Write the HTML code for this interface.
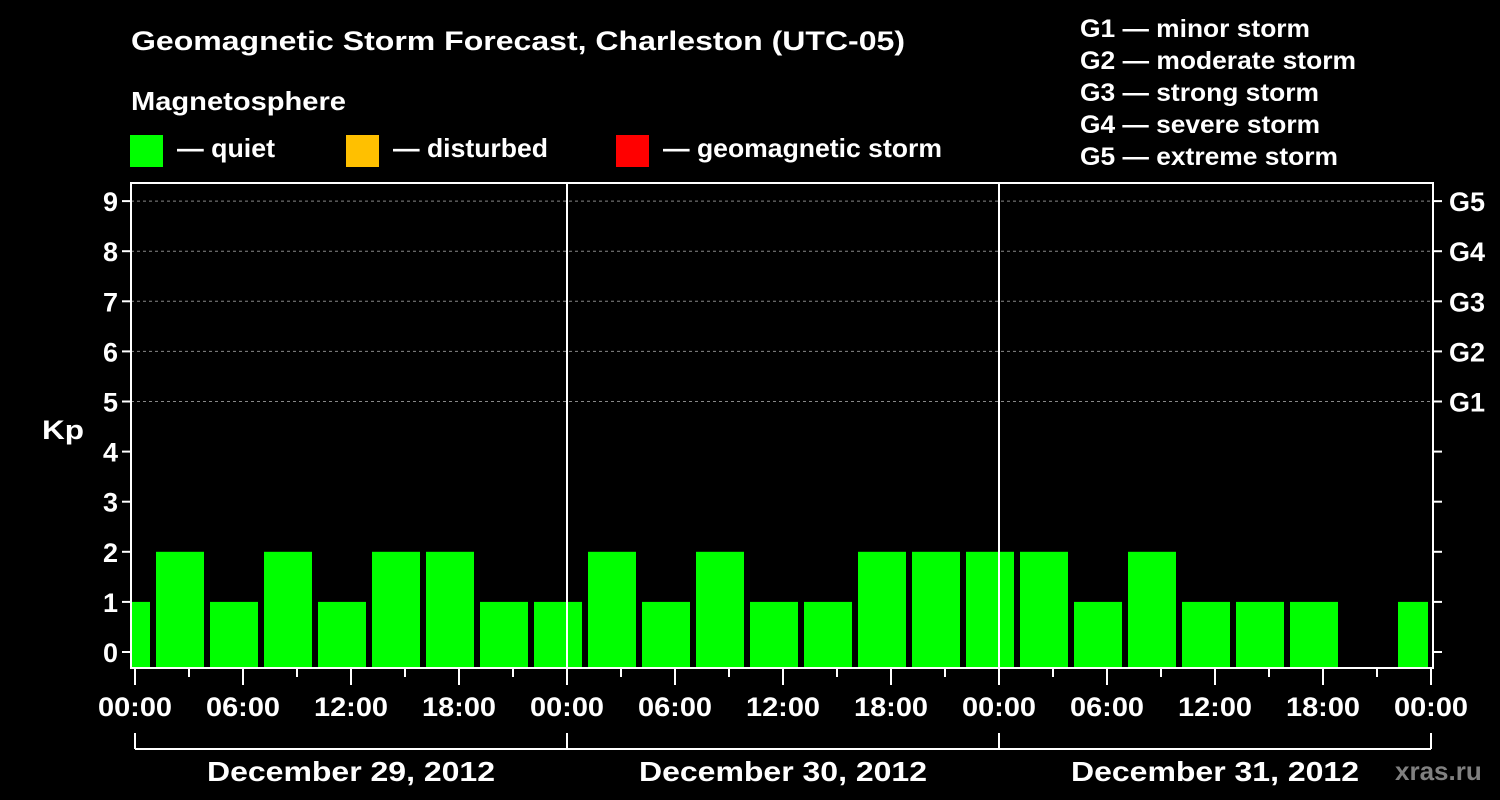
<!DOCTYPE html>
<html><head><meta charset="utf-8"><style>
html,body{margin:0;padding:0;background:#000;}
svg{display:block;font-family:"Liberation Sans",Arial,sans-serif;font-weight:bold;}
</style></head><body>
<svg id="chart" width="1500" height="800" viewBox="0 0 1500 800">
<rect width="1500" height="800" fill="#000"/>
<text x="131" y="50" fill="#fff" font-size="27" textLength="774" lengthAdjust="spacingAndGlyphs">Geomagnetic Storm Forecast, Charleston (UTC-05)</text>
<text x="131" y="110" fill="#fff" font-size="26" textLength="215" lengthAdjust="spacingAndGlyphs">Magnetosphere</text>
<g><rect x="130" y="135" width="33" height="32" fill="#00ff00"/><text x="177" y="157" fill="#fff" font-size="26" textLength="98" lengthAdjust="spacingAndGlyphs">— quiet</text></g>
<g><rect x="346" y="135" width="33" height="32" fill="#ffc000"/><text x="393" y="157" fill="#fff" font-size="26" textLength="155" lengthAdjust="spacingAndGlyphs">— disturbed</text></g>
<g><rect x="616" y="135" width="33" height="32" fill="#ff0000"/><text x="663" y="157" fill="#fff" font-size="26" textLength="279" lengthAdjust="spacingAndGlyphs">— geomagnetic storm</text></g>
<g fill="#fff" font-size="25" lengthAdjust="spacingAndGlyphs">
<text x="1080" y="37" textLength="230" lengthAdjust="spacingAndGlyphs">G1 — minor storm</text>
<text x="1080" y="69" textLength="276" lengthAdjust="spacingAndGlyphs">G2 — moderate storm</text>
<text x="1080" y="101" textLength="239" lengthAdjust="spacingAndGlyphs">G3 — strong storm</text>
<text x="1080" y="133" textLength="240" lengthAdjust="spacingAndGlyphs">G4 — severe storm</text>
<text x="1080" y="165" textLength="258" lengthAdjust="spacingAndGlyphs">G5 — extreme storm</text>
</g>
<text x="42" y="439" fill="#fff" font-size="27" textLength="42" lengthAdjust="spacingAndGlyphs">Kp</text>
<text x="1395" y="780" fill="#808080" font-size="26">xras.ru</text>
<defs><clipPath id="pc"><rect x="131" y="183" width="1297" height="485"/></clipPath></defs>
<g id="grid"></g>
<g id="bars" clip-path="url(#pc)"></g>
<g id="axes"></g>
</svg>
<script>
const kpValues=[1,2,1,2,1,2,2,1,1,2,1,2,1,1,2,2,2,2,1,2,1,1,1,null,1];
const slotStartHour=-2;
const slotHours=3;
const yTicks=[0,1,2,3,4,5,6,7,8,9];
const gLabels=["G1","G2","G3","G4","G5"];
const gLevels=[5,6,7,8,9];
const xTickLabels=["00:00","06:00","12:00","18:00","00:00","06:00","12:00","18:00","00:00","06:00","12:00","18:00","00:00"];
const dayLabels=["December 29, 2012","December 30, 2012","December 31, 2012"];

const NS="http://www.w3.org/2000/svg";
const x0=135,pxH=18,yZero=652,pxK=50.1,plotTop=183,plotBottom=668,plotLeft=131,plotRight=1433;
const X=h=>x0+h*pxH;
const Y=v=>yZero-v*pxK;
function mk(tag,attrs,parent,txt){const e=document.createElementNS(NS,tag);for(const k in attrs)e.setAttribute(k,attrs[k]);if(txt!==undefined)e.textContent=txt;parent.appendChild(e);return e;}
const grid=document.getElementById('grid'),bars=document.getElementById('bars'),axes=document.getElementById('axes');
gLevels.forEach(v=>{const l=mk('line',{x1:plotLeft,x2:plotRight,y1:Y(v),y2:Y(v),stroke:'#888','stroke-dasharray':'3,3','stroke-width':1},grid);

});
kpValues.forEach((v,i)=>{if(v===null)return;const h0=slotStartHour+i*slotHours;
const r=mk('rect',{x:X(h0)+3,y:Y(v),width:slotHours*pxH-6,height:plotBottom-Y(v),fill:'#00ff00'},bars);

});
const f=mk('rect',{x:plotLeft,y:plotTop,width:plotRight-plotLeft,height:plotBottom-plotTop,fill:'none',stroke:'#fff','stroke-width':2},axes);


[1,2].forEach(d=>{const l=mk('line',{x1:X(24*d),x2:X(24*d),y1:plotTop,y2:plotBottom,stroke:'#fff','stroke-width':2},axes);

});
yTicks.forEach(v=>{mk('line',{x1:plotLeft-9,x2:plotLeft,y1:Y(v),y2:Y(v),stroke:'#fff','stroke-width':2},axes);
mk('line',{x1:plotRight,x2:plotRight+9,y1:Y(v),y2:Y(v),stroke:'#fff','stroke-width':2},axes);
const t=mk('text',{x:plotLeft-13,y:Y(v)+10,fill:'#fff','font-size':27,'text-anchor':'end'},axes,String(v));

});
gLabels.forEach((g,i)=>{const t=mk('text',{x:plotRight+16,y:Y(gLevels[i])+10,fill:'#fff','font-size':27},axes,g);

});
for(let h=0;h<=72;h+=3){const major=h%6===0;mk('line',{x1:X(h),x2:X(h),y1:plotBottom,y2:plotBottom+(major?17:9),stroke:'#fff','stroke-width':2},axes);}
xTickLabels.forEach((s,i)=>{const t=mk('text',{x:X(i*6),y:716,fill:'#fff','font-size':27,'text-anchor':'middle',textLength:74,lengthAdjust:'spacingAndGlyphs'},axes,s);

});
mk('line',{x1:X(0),x2:X(72),y1:749,y2:749,stroke:'#fff','stroke-width':2},axes);
for(let d=0;d<=3;d++)mk('line',{x1:X(24*d),x2:X(24*d),y1:733,y2:749,stroke:'#fff','stroke-width':2},axes);
dayLabels.forEach((s,i)=>{const t=mk('text',{x:X(24*i+12),y:781,fill:'#fff','font-size':28,'text-anchor':'middle',textLength:288,lengthAdjust:'spacingAndGlyphs'},axes,s);

});
</script>
</body></html>
